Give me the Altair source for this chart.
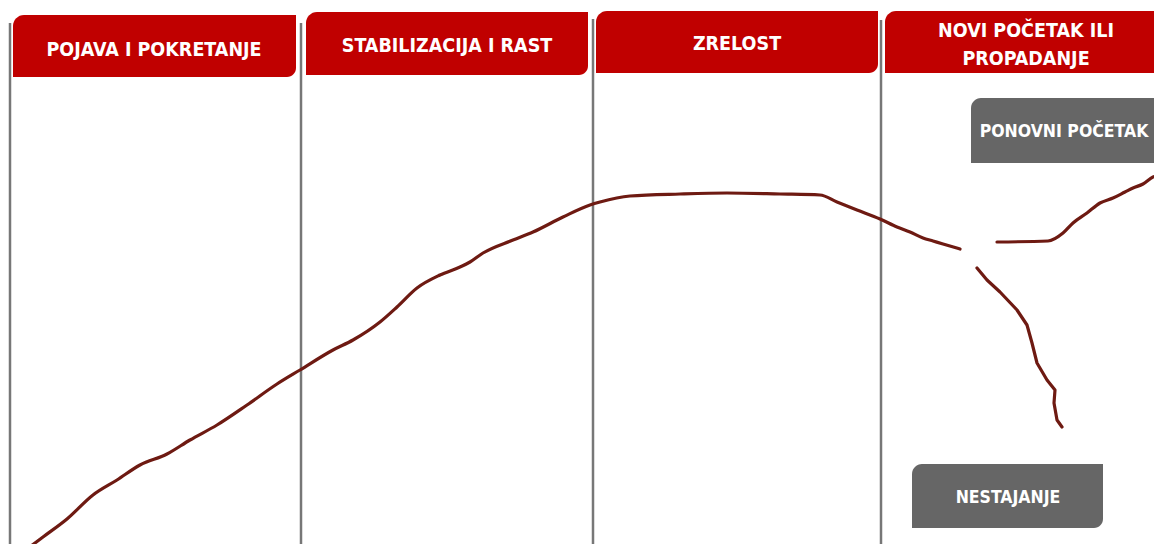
import altair as alt
import pandas as pd

# ---- phase headers ----
phase_labels = ["POJAVA I POKRETANJE", "STABILIZACIJA I RAST", "ZRELOST", "NOVI POČETAK ILI\nPROPADANJE"]
phase_x0 = [13, 306, 596, 885]
phase_x1 = [296, 588, 878, 1167]
phase_top = [15, 12, 11, 11]
phase_bot = [77, 75, 73, 73]
phase_text_x = [154, 447, 737, 1026]
phase_text_y = [50, 46, 44, 31]

# ---- phase dividers ----
divider_x = [10, 301, 593, 881]
divider_top = [23, 23, 19, 20]
divider_bot = [552, 552, 552, 552]

# ---- outcome boxes ----
outcome_labels = ["PONOVNI POČETAK", "NESTAJANJE"]
outcome_x0 = [971, 912]
outcome_x1 = [1170, 1103]
outcome_top = [98, 464]
outcome_bot = [163, 528]
outcome_text_x = [1064, 1008]
outcome_text_y = [132, 498]

# ---- lifecycle curve (time, level measured downward from top) ----
main_t = [23, 43, 67, 93, 117, 140, 167, 190, 217, 247, 277, 300, 333, 353, 380, 397, 417,
          440, 460, 470, 483, 513, 533, 563, 590, 600, 630, 680, 727, 780, 820, 837, 857,
          880, 897, 910, 923, 933, 943, 960]
main_v = [552, 537, 519, 495, 480, 465, 454, 440, 425, 405, 384, 370, 350, 340, 322, 307, 288,
          275, 267, 262, 253, 240, 232, 217, 205, 202, 196, 194, 193, 194, 195, 202, 210,
          219, 227, 232, 238, 241, 244, 249]
rebirth_t = [997, 1048, 1063, 1073, 1087, 1100, 1113, 1125, 1133, 1143, 1153, 1162]
rebirth_v = [242, 241, 233, 223, 213, 203, 198, 192, 188, 184, 177, 175]
decline_t = [977, 987, 1000, 1017, 1027, 1032, 1037, 1047, 1055, 1054, 1057, 1062]
decline_v = [268, 280, 292, 310, 325, 343, 363, 380, 390, 403, 420, 427]

smooth = pd.DataFrame(
    [{"seg": "main", "i": i, "t": t, "v": v} for i, (t, v) in enumerate(zip(main_t, main_v))]
    + [{"seg": "rebirth", "i": i, "t": t, "v": v} for i, (t, v) in enumerate(zip(rebirth_t, rebirth_v))]
)
decline = pd.DataFrame({"i": list(range(len(decline_t))), "t": decline_t, "v": decline_v})
phases = pd.DataFrame({"label": phase_labels, "x0": phase_x0, "x1": phase_x1,
                       "top": phase_top, "bot": phase_bot, "tx": phase_text_x, "ty": phase_text_y})
dividers = pd.DataFrame({"x": divider_x, "top": divider_top, "bot": divider_bot})
outcomes = pd.DataFrame({"label": outcome_labels, "x0": outcome_x0, "x1": outcome_x1,
                         "top": outcome_top, "bot": outcome_bot, "tx": outcome_text_x, "ty": outcome_text_y})

FONT = "'DejaVu Sans Condensed', 'DejaVu Sans', sans-serif"
W, H = 1146, 536
xs = alt.Scale(domain=[8, 8 + W])
ys = alt.Scale(domain=[8, 8 + H], reverse=True)
X = lambda f: alt.X(f, type="quantitative", scale=xs, axis=None)
Y = lambda f: alt.Y(f, type="quantitative", scale=ys, axis=None)

rules = alt.Chart(dividers).mark_rule(color="#777777", strokeWidth=2.5).encode(
    x=X("x"), y=Y("top"), y2="bot")

header_rects = alt.Chart(phases).mark_rect(
    color="#C00000", cornerRadiusTopLeft=11, cornerRadiusBottomRight=9).encode(
    x=X("x0"), x2="x1", y=Y("top"), y2="bot")

header_text = alt.Chart(phases).mark_text(
    color="white", font=FONT, fontWeight="bold", fontSize=19.5,
    lineBreak="\n", lineHeight=28, align="center", baseline="middle").encode(
    x=X("tx"), y=Y("ty"), text="label:N")

out_rects = alt.Chart(outcomes).mark_rect(
    color="#666666", cornerRadiusTopLeft=10, cornerRadiusBottomRight=9).encode(
    x=X("x0"), x2="x1", y=Y("top"), y2="bot")

out_text = alt.Chart(outcomes).mark_text(
    color="white", font=FONT, fontWeight="bold", fontSize=17.5,
    align="center", baseline="middle").encode(
    x=X("tx"), y=Y("ty"), text="label:N")

lines = alt.Chart(smooth).mark_line(color="#6E1A12", strokeWidth=3.2, strokeCap="round",
                                    strokeJoin="round", interpolate="monotone").encode(
    x=X("t"), y=Y("v"), detail="seg:N", order="i:Q")

decline_line = alt.Chart(decline).mark_line(color="#6E1A12", strokeWidth=3.2, strokeCap="round",
                                            strokeJoin="round").encode(
    x=X("t"), y=Y("v"), order="i:Q")

chart = alt.layer(rules, header_rects, header_text, out_rects, out_text, lines, decline_line).properties(
    width=W, height=H, padding=0, autosize=alt.AutoSizeParams(type="none"),
    background="white"
).configure_view(stroke=None)

chart.save("out.html", embed_options={"renderer": "svg", "actions": False})
